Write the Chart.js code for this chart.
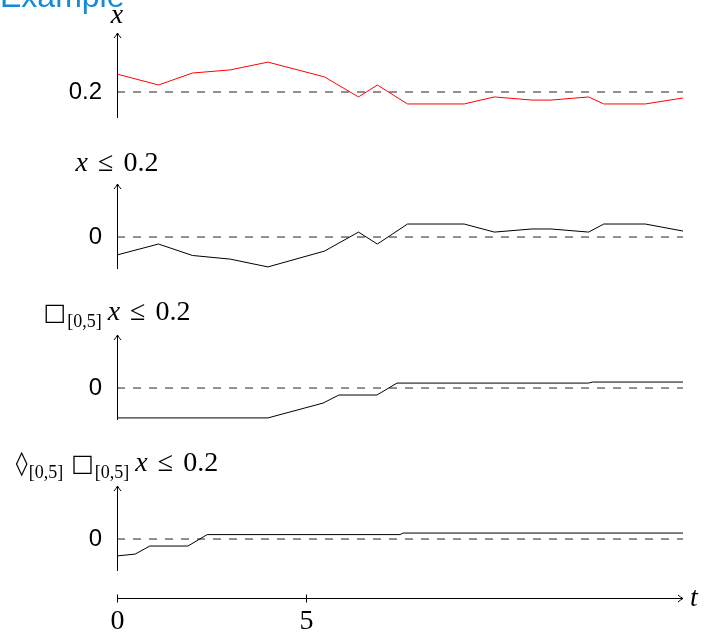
<!DOCTYPE html>
<html>
<head>
<meta charset="utf-8">
<script src="https://cdn.jsdelivr.net/npm/chart.js@4.4.1/dist/chart.umd.min.js"></script>
<style>
  body { margin: 0; background: #fff; }
  #wrap { position: relative; width: 704px; height: 633px; }
  #wrap canvas { position: absolute; left: 0; top: 0; }
</style>
</head>
<body>
<div id="wrap">
  <canvas id="p1" width="704" height="633"></canvas>
  <canvas id="p2" width="704" height="633"></canvas>
  <canvas id="p3" width="704" height="633"></canvas>
  <canvas id="p4" width="704" height="633"></canvas>
</div>
<script>
// signal x(t)
const sigT = [0, 1.1, 2, 3, 4, 5.5, 6.4, 6.9, 7.7, 9.2, 10, 11, 11.5, 12.5, 12.9, 14, 15];
const sigX = [0.269, 0.227, 0.273, 0.285, 0.315, 0.258, 0.181, 0.227, 0.154, 0.154, 0.181, 0.169, 0.169, 0.181, 0.154, 0.154, 0.177];

// robustness of x <= 0.2
const robT = [0, 1.1, 2, 3, 4, 5.5, 6.4, 6.9, 7.7, 9.2, 10, 11, 11.5, 12.5, 12.9, 14, 15];
const robV = [-0.069, -0.027, -0.071, -0.085, -0.115, -0.054, 0.019, -0.027, 0.05, 0.05, 0.019, 0.031, 0.031, 0.019, 0.05, 0.05, 0.023];

// always[0,5]
const alwT = [0, 4, 5.46, 5.88, 6.89, 7.42, 12.5, 12.6, 15];
const alwV = [-0.115, -0.115, -0.058, -0.027, -0.027, 0.019, 0.019, 0.023, 0.023];

// eventually[0,5] always[0,5]
const evT = [0, 0.48, 0.87, 1.88, 2.39, 7.5, 7.58, 15];
const evV = [-0.065, -0.058, -0.027, -0.027, 0.017, 0.017, 0.023, 0.023];

const tTicks = [0, 5];
const tMax = 15;

const serif = 'Liberation Serif';

function pts(ts, vs) {
    return ts.map((t, i) => ({ x: t, y: vs[i] }));
}

// draw a title made of pieces, centred on the y axis
function drawTitle(ctx, parts, cx, base) {
    let total = 0;
    parts.forEach(p => {
        ctx.font = p.font;
        p.w = ctx.measureText(p.text).width;
        total += p.w + (p.gap || 0);
    });
    let x = cx - total / 2;
    ctx.fillStyle = '#000';
    ctx.textAlign = 'left';
    ctx.textBaseline = 'alphabetic';
    parts.forEach(p => {
        ctx.font = p.font;
        ctx.fillText(p.text, x, base + (p.dy || 0));
        x += p.w + (p.gap || 0);
    });
}

const big = '28px ' + serif;
const ital = 'italic 28px ' + serif;
const sub = '18px ' + serif;
const sym = '24px DejaVu Sans';
const leq = [
    { text: 'x', font: ital, gap: 10 },
    { text: '\u2264', font: big, gap: 10 },
    { text: '0.2', font: big }
];

const panels = [
    { id: 'p1', top: 33, bottom: 118, min: 0.1, max: 0.427, ref: 0.2, refLabel: '0.2',
      color: 'red', t: sigT, v: sigX, titleBase: 23,
      title: [{ text: 'x', font: ital }] },
    { id: 'p2', top: 184, bottom: 269, min: -0.123, max: 0.204, ref: 0, refLabel: '0',
      color: '#000', t: robT, v: robV, titleBase: 171, title: leq },
    { id: 'p3', top: 335, bottom: 420, min: -0.123, max: 0.204, ref: 0, refLabel: '0',
      color: '#000', t: alwT, v: alwV, titleBase: 320,
      title: [{ text: '\u25A1', font: sym, gap: 1 },
              { text: '[0,5]', font: sub, dy: 7, gap: 6 }].concat(leq) },
    { id: 'p4', top: 486, bottom: 571, min: -0.123, max: 0.204, ref: 0, refLabel: '0',
      color: '#000', t: evT, v: evV, titleBase: 471, last: true,
      title: [{ text: '\u25CA', font: sym, gap: 1 },
              { text: '[0,5]', font: sub, dy: 7, gap: 8 },
              { text: '\u25A1', font: sym, gap: 1 },
              { text: '[0,5]', font: sub, dy: 7, gap: 6 }].concat(leq) }
];

function arrowUp(ctx, x, y) {
    ctx.beginPath();
    ctx.moveTo(x - 3.5, y + 5);
    ctx.quadraticCurveTo(x - 1, y + 2, x, y);
    ctx.quadraticCurveTo(x + 1, y + 2, x + 3.5, y + 5);
    ctx.stroke();
}

function arrowRight(ctx, x, y) {
    ctx.beginPath();
    ctx.moveTo(x - 5, y - 3.5);
    ctx.quadraticCurveTo(x - 2, y - 1, x, y);
    ctx.quadraticCurveTo(x - 2, y + 1, x - 5, y + 3.5);
    ctx.stroke();
}

const axesPlugin = {
    id: 'axes',
    afterDraw(chart, args, opts) {
        const p = opts.panel;
        const ctx = chart.ctx;
        const a = chart.chartArea;
        ctx.save();
        ctx.strokeStyle = '#000';
        ctx.lineWidth = 1;

        // vertical axis with arrow
        const x0 = Math.round(a.left) + 0.5;
        ctx.beginPath();
        ctx.moveTo(x0, a.bottom);
        ctx.lineTo(x0, a.top);
        ctx.stroke();
        arrowUp(ctx, x0, a.top);

        drawTitle(ctx, p.title, a.left, p.titleBase);

        if (p.id === 'p1') {
            ctx.font = '32px Liberation Sans';
            ctx.fillStyle = '#138bd6';
            ctx.textAlign = 'left';
            ctx.fillText('Example', 0, 7);
        }

        // time axis below the last panel
        if (p.last) {
            const xs = chart.scales.x;
            const y = 598.5;
            const xa = xs.getPixelForValue(0);
            const xb = xs.getPixelForValue(tMax);
            ctx.beginPath();
            ctx.moveTo(xa, y);
            ctx.lineTo(xb, y);
            ctx.stroke();
            arrowRight(ctx, xb, y);
            ctx.fillStyle = '#000';
            ctx.font = big;
            ctx.textAlign = 'center';
            tTicks.forEach(t => {
                const tx = Math.round(xs.getPixelForValue(t)) + 0.5;
                ctx.beginPath();
                ctx.moveTo(tx, y - 4);
                ctx.lineTo(tx, y + 4);
                ctx.stroke();
                ctx.fillText(String(t), tx, 629);
            });
            ctx.textAlign = 'left';
            ctx.font = ital;
            ctx.fillText('t', xb + 7, 606);
        }
        ctx.restore();
    }
};

panels.forEach(p => {
    new Chart(document.getElementById(p.id), {
        type: 'line',
        data: {
            datasets: [{
                data: pts(p.t, p.v),
                borderColor: p.color,
                borderWidth: 1,
                pointRadius: 0,
                tension: 0
            }, {
                data: [{ x: 0, y: p.ref }, { x: tMax, y: p.ref }],
                borderColor: '#222',
                borderWidth: 1,
                borderDash: [8, 8],
                pointRadius: 0
            }]
        },
        options: {
            responsive: false,
            animation: false,
            events: [],
            layout: { padding: { top: p.top, bottom: 633 - p.bottom, left: 0, right: 21 } },
            plugins: {
                legend: { display: false },
                tooltip: { enabled: false },
                axes: { panel: p }
            },
            scales: {
                x: { type: 'linear', min: 0, max: tMax, display: false },
                y: {
                    type: 'linear',
                    min: p.min,
                    max: p.max,
                    grid: { display: false },
                    border: { display: false },
                    afterBuildTicks: s => { s.ticks = [{ value: p.ref }]; },
                    afterFit: s => { s.width = 117; },
                    ticks: {
                        padding: 7,
                        color: '#000',
                        font: { family: 'Liberation Sans', size: 24 },
                        callback: () => p.refLabel
                    }
                }
            }
        },
        plugins: [axesPlugin]
    });
});
</script>
</body>
</html>
